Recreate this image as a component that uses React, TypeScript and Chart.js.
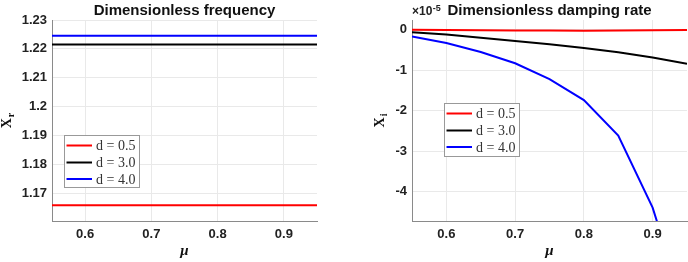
import React, { useEffect, useRef } from "react";
import { Chart, registerables } from "chart.js";

Chart.register(...registerables);

// Shared x values (mu)
const MU = [0.55, 0.6, 0.65, 0.7, 0.75, 0.8, 0.85, 0.9, 0.95];
const MU_TICKS = [0.6, 0.7, 0.8, 0.9];

const SERIES_LABELS = ["d = 0.5", "d = 3.0", "d = 4.0"];
const SERIES_COLORS = ["#ff0000", "#000000", "#0000ff"];

// Dimensionless frequency X_r
const FREQ_D05 = [1.1658, 1.1658, 1.1658, 1.1658, 1.1658, 1.1658, 1.1658, 1.1658, 1.1658];
const FREQ_D30 = [1.2215, 1.2215, 1.2215, 1.2215, 1.2215, 1.2215, 1.2215, 1.2215, 1.2215];
const FREQ_D40 = [1.2245, 1.2245, 1.2245, 1.2245, 1.2245, 1.2245, 1.2245, 1.2245, 1.2245];
const FREQ_TICKS = [1.17, 1.18, 1.19, 1.2, 1.21, 1.22, 1.23];

// Dimensionless damping rate X_i (units of 1e-5)
const DAMP_D05 = [-0.004, -0.01, -0.015, -0.02, -0.022, -0.024, -0.022, -0.016, -0.008];
const DAMP_D30 = [-0.06, -0.12, -0.2, -0.28, -0.36, -0.45, -0.56, -0.69, -0.84];
const DAMP_D40 = [-0.17, -0.33, -0.55, -0.83, -1.22, -1.74, -2.62, -4.4, -7.1];
const DAMP_TICKS = [0, -1, -2, -3, -4];

const TICK_FONT = { family: "'Liberation Sans', Arial, sans-serif", size: 13, weight: "bold" as const };
const TICK_COLOR = "#222222";
const GRID_COLOR = "#e9e9e9";
const AXIS_COLOR = "#8a8a8a";

type PanelSpec = {
  title: string;
  exponent?: string;
  ySymbol: string;
  ySub: string;
  yLabelX: number;
  series: number[][];
  yTicks: number[];
  yMin: number;
  yMax: number;
  plotLeft: number;
  plotRight: number;
  plotBottom: number;
  legendBox: { x: number; y: number; w: number; h: number };
};

const fmt = (v: number) => String(Number(v.toFixed(4)));

function makeOverlay(spec: PanelSpec) {
  return {
    id: "panelDecor",
    afterDatasetsDraw(chart: any) {
      const ctx: CanvasRenderingContext2D = chart.ctx;
      const area = chart.chartArea;
      ctx.save();

      // title
      const cx = (area.left + area.right) / 2;
      ctx.fillStyle = "#111";
      ctx.font = "bold 15px 'Liberation Sans', Arial, sans-serif";
      ctx.textAlign = "center";
      ctx.textBaseline = "alphabetic";
      ctx.fillText(spec.title, cx, 15);

      // exponent multiplier at top-left of axes
      if (spec.exponent) {
        ctx.textAlign = "left";
        ctx.font = "bold 12px 'Liberation Sans', Arial, sans-serif";
        ctx.fillStyle = TICK_COLOR;
        const base = "\u00d710";
        ctx.fillText(base, area.left, 15);
        const w = ctx.measureText(base).width;
        ctx.font = "bold 9px 'Liberation Sans', Arial, sans-serif";
        ctx.fillText(spec.exponent, area.left + w + 0.5, 11);
      }

      // y-axis label with subscript
      ctx.save();
      const cy = (area.top + area.bottom) / 2;
      ctx.translate(spec.yLabelX, cy);
      ctx.rotate(-Math.PI / 2);
      ctx.fillStyle = "#111";
      ctx.textAlign = "left";
      const mainFont = "bold 14px 'Liberation Serif', 'Times New Roman', serif";
      const subFont = "bold 10px 'Liberation Serif', 'Times New Roman', serif";
      ctx.font = mainFont;
      const wMain = ctx.measureText(spec.ySymbol).width;
      ctx.font = subFont;
      const wSub = ctx.measureText(spec.ySub).width;
      const start = -(wMain + wSub + 1) / 2;
      ctx.font = mainFont;
      ctx.fillText(spec.ySymbol, start, 0);
      ctx.font = subFont;
      ctx.fillText(spec.ySub, start + wMain + 1, 3);
      ctx.restore();

      // x-axis label
      ctx.fillStyle = "#111";
      ctx.textAlign = "center";
      ctx.textBaseline = "middle";
      ctx.font = "italic bold 15px 'Liberation Serif', 'Times New Roman', serif";
      ctx.fillText("\u03bc", cx, 251);

      // legend
      const b = spec.legendBox;
      ctx.fillStyle = "#ffffff";
      ctx.fillRect(b.x, b.y, b.w, b.h);
      ctx.strokeStyle = "#999999";
      ctx.lineWidth = 1;
      ctx.strokeRect(b.x + 0.5, b.y + 0.5, b.w - 1, b.h - 1);
      ctx.font = "14px 'Liberation Serif', 'Times New Roman', serif";
      ctx.textAlign = "left";
      ctx.textBaseline = "middle";
      const rows = [10.5, 27.5, 44];
      chart.data.datasets.forEach((ds: any, i: number) => {
        const ry = b.y + rows[i];
        ctx.strokeStyle = ds.borderColor;
        ctx.lineWidth = 2;
        ctx.beginPath();
        ctx.moveTo(b.x + 2.5, ry);
        ctx.lineTo(b.x + 28, ry);
        ctx.stroke();
        ctx.fillStyle = "#333";
        ctx.fillText(ds.label, b.x + 32, ry + 1);
      });

      ctx.restore();
    },
  };
}

function Panel({ spec, left }: { spec: PanelSpec; left: number }) {
  const ref = useRef<HTMLCanvasElement | null>(null);

  useEffect(() => {
    if (!ref.current) return;
    const datasets = spec.series.map((vals, i) => ({
      label: SERIES_LABELS[i],
      data: MU.map((m, j) => ({ x: m, y: vals[j] })),
      borderColor: SERIES_COLORS[i],
      backgroundColor: SERIES_COLORS[i],
      borderWidth: 2,
      pointRadius: 0,
      tension: 0,
      fill: false,
    }));

    const chart = new Chart(ref.current, {
      type: "line",
      data: { datasets },
      plugins: [makeOverlay(spec)],
      options: {
        animation: false,
        responsive: false,
        devicePixelRatio: 1,
        layout: { padding: { left: 0, top: 20, right: 344 - spec.plotRight, bottom: 0 } },
        plugins: { legend: { display: false }, tooltip: { enabled: false }, title: { display: false } },
        scales: {
          x: {
            type: "linear",
            min: 0.55,
            max: 0.95,
            afterFit: (s: any) => {
              s.height = 262 - spec.plotBottom;
            },
            afterBuildTicks: (s: any) => {
              s.ticks = MU_TICKS.map((v) => ({ value: v }));
            },
            grid: { color: GRID_COLOR, drawTicks: false, lineWidth: 1 },
            border: { color: AXIS_COLOR, width: 1 },
            ticks: { font: TICK_FONT, color: TICK_COLOR, padding: 6, callback: (v: any) => fmt(Number(v)), maxRotation: 0 },
          },
          y: {
            type: "linear",
            min: spec.yMin,
            max: spec.yMax,
            afterFit: (s: any) => {
              s.width = spec.plotLeft;
            },
            afterBuildTicks: (s: any) => {
              s.ticks = spec.yTicks.map((v) => ({ value: v }));
            },
            grid: { color: GRID_COLOR, drawTicks: false, lineWidth: 1 },
            border: { color: AXIS_COLOR, width: 1 },
            ticks: { font: TICK_FONT, color: TICK_COLOR, padding: 5, callback: (v: any) => fmt(Number(v)) },
          },
        },
      } as any,
    });
    return () => chart.destroy();
  }, [spec]);

  return (
    <canvas
      ref={ref}
      width={344}
      height={262}
      style={{ position: "absolute", left, top: 0, width: 344, height: 262 }}
    />
  );
}

const FREQ_PANEL: PanelSpec = {
  title: "Dimensionless frequency",
  ySymbol: "X",
  ySub: "r",
  yLabelX: 11,
  series: [FREQ_D05, FREQ_D30, FREQ_D40],
  yTicks: FREQ_TICKS,
  yMin: 1.1603,
  yMax: 1.23,
  plotLeft: 52,
  plotRight: 317,
  plotBottom: 221,
  legendBox: { x: 64, y: 135, w: 76, h: 53 },
};

const DAMP_PANEL: PanelSpec = {
  title: "Dimensionless damping rate",
  exponent: "-5",
  ySymbol: "X",
  ySub: "i",
  yLabelX: 39.5,
  series: [DAMP_D05, DAMP_D30, DAMP_D40],
  yTicks: DAMP_TICKS,
  yMin: -4.73,
  yMax: 0.24,
  plotLeft: 68,
  plotRight: 343,
  plotBottom: 221,
  legendBox: { x: 100, y: 103, w: 76, h: 54 },
};

export default function App() {
  return (
    <div style={{ position: "fixed", left: 0, top: 0, width: 688, height: 262, background: "#fff", overflow: "hidden" }}>
      <Panel spec={FREQ_PANEL} left={0} />
      <Panel spec={DAMP_PANEL} left={344} />
    </div>
  );
}
